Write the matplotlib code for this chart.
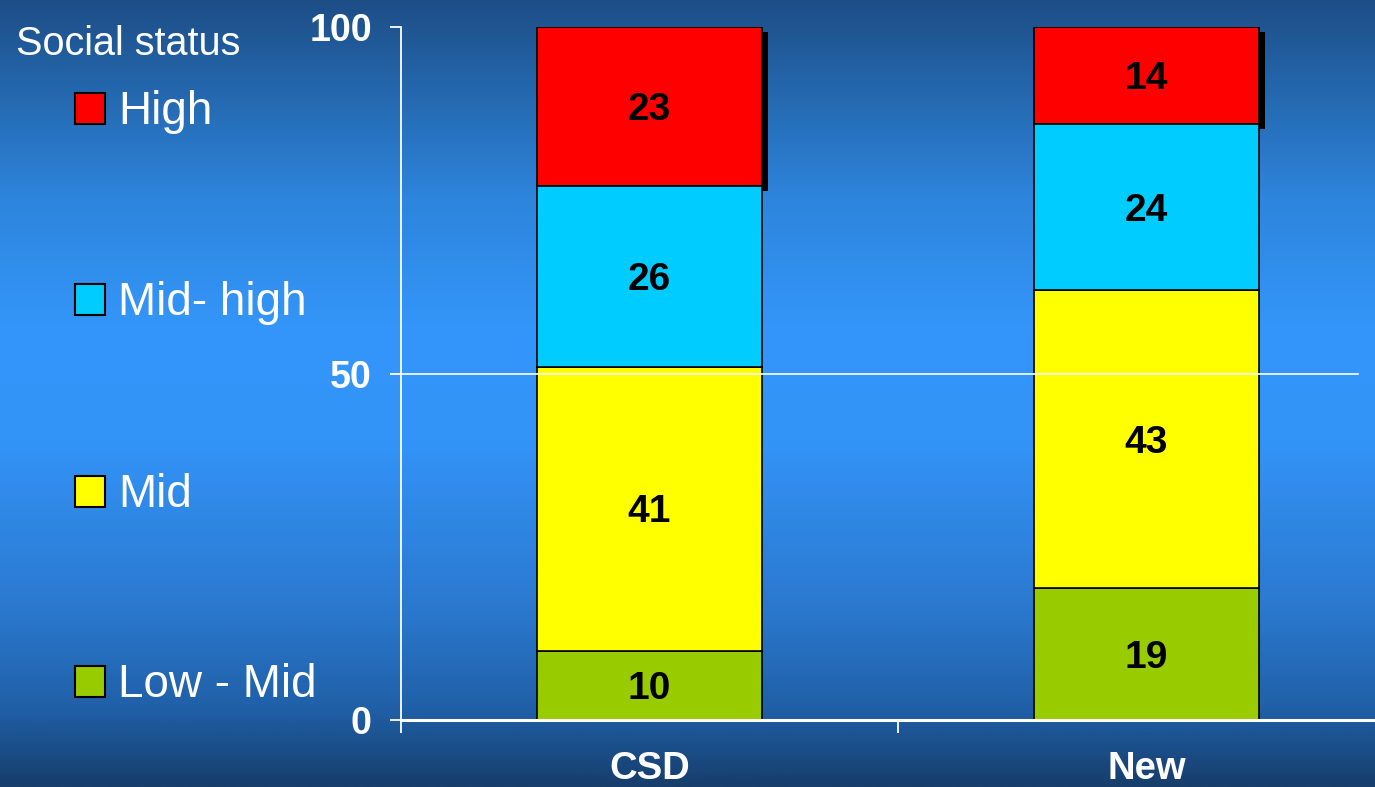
import numpy as np
import matplotlib
matplotlib.use("Agg")
import matplotlib.pyplot as plt
import matplotlib.patheffects as pe
from matplotlib.colors import LinearSegmentedColormap
from matplotlib.patches import Rectangle

plt.rcParams['font.family'] = ['Liberation Sans', 'DejaVu Sans']

# Data
groups = ["CSD", "New"]
levels = ["Low - Mid", "Mid", "Mid- high", "High"]
low_mid = [10, 19]
mid = [41, 43]
mid_high = [26, 24]
high = [23, 14]
colors = ["#99cc00", "#ffff00", "#00ccff", "#ff0000"]
legend_title = "Social status"

fig = plt.figure(figsize=(13.75, 7.87), dpi=100)

# Background gradient: dark at top and bottom, bright in the middle
bg = fig.add_axes([0, 0, 1, 1], zorder=-10)
bg.axis("off")
stops = [(0.00, (29, 78, 134)), (0.25, (45, 133, 220)), (0.42, (52, 150, 250)),
         (0.56, (51, 148, 248)), (0.78, (42, 120, 205)), (0.90, (32, 96, 168)),
         (1.00, (23, 62, 108))]
cmap = LinearSegmentedColormap.from_list(
    "bg", [(p, tuple(c / 255 for c in rgb)) for p, rgb in stops])
grad = np.linspace(0, 1, 512).reshape(-1, 1)
bg.imshow(grad, aspect="auto", cmap=cmap, extent=[0, 1, 0, 1], origin="upper")

ax = fig.add_axes([401 / 1375, 67 / 787, 994 / 1375, 693 / 787])
ax.patch.set_alpha(0)

x = np.arange(len(groups))
width = 0.453
series = [low_mid, mid, mid_high, high]
bottom = np.zeros(len(groups))
for vals, col in zip(series, colors):
    vals = np.array(vals)
    top = col == "#ff0000"
    bars = ax.bar(x, vals, width, bottom=bottom, color=col, edgecolor="black",
                  linewidth=1.2, zorder=2 if top else 3)
    if top:
        for b in bars:
            b.set_path_effects([pe.SimplePatchShadow(offset=(4, -3.5), shadow_rgbFace="black",
                                                      alpha=1.0), pe.Normal()])
    for xi, v, b0 in zip(x, vals, bottom):
        ax.annotate(str(v), (xi, b0 + v / 2), xytext=(0, -2.5), textcoords="offset points",
                    ha="center", va="center", fontsize=28, fontweight="bold",
                    color="black", zorder=5)
    bottom += vals

ax.set_xlim(-0.5, 1.5)
ax.set_ylim(0, 100)

# Axis styling
for side in ["top", "right"]:
    ax.spines[side].set_visible(False)
ax.spines["left"].set_color("white")
ax.spines["left"].set_linewidth(1.3)
ax.spines["bottom"].set_color("white")
ax.spines["bottom"].set_linewidth(2.2)
ax.spines["bottom"].set_zorder(4)

ax.set_yticks([0, 50, 100])
ax.set_yticklabels(["0", "50", "100"])
ax.tick_params(axis="y", direction="out", length=8, width=1.3, color="white",
               labelcolor="white", labelsize=27, pad=13)
for lbl in ax.get_yticklabels():
    lbl.set_fontweight("bold")

ax.set_xticks([-0.5, 0.5, 1.5])
ax.set_xticklabels([])
ax.tick_params(axis="x", which="major", direction="out", length=9.5, width=1.3,
               color="white")
ax.set_xticks(x, minor=True)
ax.set_xticklabels(groups, minor=True)
ax.tick_params(axis="x", which="minor", length=0, labelcolor="white",
               labelsize=27.5, pad=22)
for lbl in ax.get_xticklabels(minor=True):
    lbl.set_fontweight("bold")

ax.axhline(50, xmin=0, xmax=(1358 - 401) / 994, color="white", linewidth=1.2, zorder=4)

# Legend drawn on the left side
fig.text(16 / 1375, 1 - 44 / 787, legend_title, color="white", fontsize=28.5,
         ha="left", va="center")
legend_y = [681, 491, 299, 108]
for lab, col, yc in zip(levels, colors, legend_y):
    fig.patches.append(Rectangle((75 / 1375, 1 - (yc + 15.5) / 787), 30 / 1375, 31 / 787,
                                 transform=fig.transFigure, facecolor=col,
                                 edgecolor="black", linewidth=1.5))
    fig.text(118 / 1375, 1 - (yc + 4) / 787, lab, color="white", fontsize=33,
             ha="left", va="center")

fig.savefig("out.png", dpi=100)
